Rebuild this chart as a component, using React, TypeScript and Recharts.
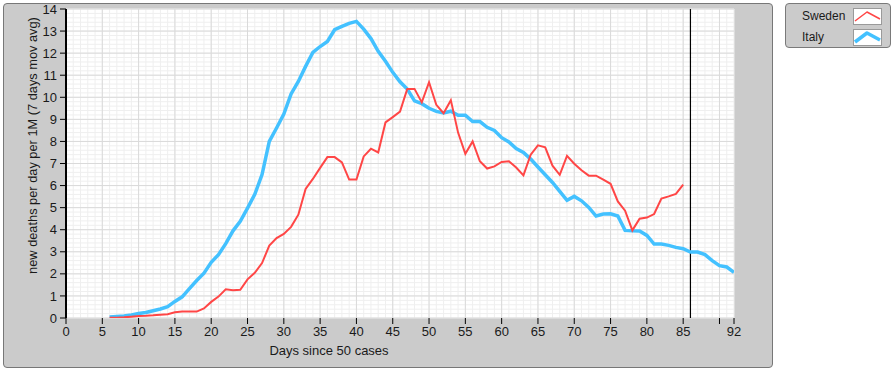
import React from 'react';
import { LineChart, Line, XAxis, YAxis, CartesianGrid, ReferenceLine, Legend } from 'recharts';

const days = [6, 7, 8, 9, 10, 11, 12, 13, 14, 15, 16, 17, 18, 19, 20, 21, 22, 23, 24, 25, 26, 27, 28, 29, 30, 31, 32, 33, 34, 35, 36, 37, 38, 39, 40, 41, 42, 43, 44, 45, 46, 47, 48, 49, 50, 51, 52, 53, 54, 55, 56, 57, 58, 59, 60, 61, 62, 63, 64, 65, 66, 67, 68, 69, 70, 71, 72, 73, 74, 75, 76, 77, 78, 79, 80, 81, 82, 83, 84, 85, 86, 87, 88, 89, 90, 91, 92];

// Sweden: days 6..85
const swedenDeaths = [0.01, 0.01, 0.03, 0.06, 0.09, 0.1, 0.12, 0.15, 0.17, 0.26, 0.29, 0.29, 0.29, 0.43, 0.73, 0.97, 1.3, 1.26, 1.28, 1.75, 2.05, 2.49, 3.28, 3.62, 3.81, 4.13, 4.68, 5.85, 6.3, 6.8, 7.29, 7.29, 7.05, 6.27, 6.27, 7.32, 7.67, 7.5, 8.86, 9.1, 9.35, 10.38, 10.38, 9.77, 10.68, 9.66, 9.28, 9.87, 8.4, 7.44, 8.0, 7.1, 6.77, 6.87, 7.07, 7.1, 6.82, 6.46, 7.4, 7.82, 7.73, 6.9, 6.49, 7.35, 6.99, 6.69, 6.45, 6.45, 6.27, 6.08, 5.28, 4.86, 3.97, 4.5, 4.55, 4.71, 5.41, 5.51, 5.62, 6.04];

// Italy: days 6..92
const italyDeaths = [0.05, 0.07, 0.09, 0.14, 0.2, 0.25, 0.33, 0.41, 0.51, 0.75, 0.96, 1.33, 1.7, 2.03, 2.52, 2.87, 3.37, 3.95, 4.38, 4.98, 5.6, 6.5, 8.0, 8.61, 9.24, 10.15, 10.72, 11.4, 12.03, 12.3, 12.53, 13.06, 13.21, 13.35, 13.44, 13.09, 12.66, 12.08, 11.63, 11.13, 10.7, 10.37, 9.84, 9.71, 9.5, 9.36, 9.29, 9.37, 9.19, 9.19, 8.9, 8.9, 8.64, 8.5, 8.17, 7.98, 7.68, 7.5, 7.2, 6.84, 6.49, 6.14, 5.74, 5.33, 5.51, 5.31, 5.01, 4.62, 4.71, 4.72, 4.62, 3.97, 3.95, 3.94, 3.74, 3.35, 3.35, 3.29, 3.2, 3.14, 2.99, 2.99, 2.87, 2.6, 2.37, 2.31, 2.07];

const xTicks = [0, 5, 10, 15, 20, 25, 30, 35, 40, 45, 50, 55, 60, 65, 70, 75, 80, 85, 90, 92];
const hiddenXTickLabels = [90];
const yTicks = [0, 1, 2, 3, 4, 5, 6, 7, 8, 9, 10, 11, 12, 13, 14];
const markerDay = 86;
const legendOrder = ['Sweden', 'Italy'];

const minorX: number[] = [];
for (let d = 0; d <= 92; d += 1) minorX.push(d);
const minorY: number[] = [];
for (let i = 0; i <= 70; i += 1) minorY.push(i / 5);

const data = days.map((day, i) => ({
  day,
  Sweden: i < swedenDeaths.length ? swedenDeaths[i] : undefined,
  Italy: italyDeaths[i],
}));

const RED = '#ff4646';
const BLUE = '#43c1ff';
const FONT = '"Liberation Sans", Arial, Helvetica, sans-serif';
const swatchWidths: Record<string, number> = { Sweden: 1.5, Italy: 3.5 };

const scaleOf = (axis: any) => (axis && typeof axis.scale === 'function' ? axis.scale : null);

const vGen = (props: any) => {
  const s = scaleOf(props.xAxis);
  const o = props.offset;
  return minorX.map((d) => (s ? s(d) : o.left + (d / 92) * o.width));
};
const hGen = (props: any) => {
  const s = scaleOf(props.yAxis);
  const o = props.offset;
  return minorY.map((v) => (s ? s(v) : o.top + o.height - (v / 14) * o.height));
};
const vGenMajor = (props: any) => {
  const s = scaleOf(props.xAxis);
  const o = props.offset;
  return minorX.filter((d) => d % 5 === 0).map((d) => (s ? s(d) : o.left + (d / 92) * o.width));
};
const hGenMajor = (props: any) => {
  const s = scaleOf(props.yAxis);
  const o = props.offset;
  return yTicks.map((v) => (s ? s(v) : o.top + o.height - (v / 14) * o.height));
};

const YLabel = (props: any) => {
  const vb = props.viewBox || { x: 16, y: 9, width: 50, height: 309 };
  const cx = vb.x + 16;
  const cy = vb.y + vb.height / 2 - 18;
  return (
    <text x={cx} y={cy} transform={`rotate(-90 ${cx} ${cy})`} textAnchor="middle" dominantBaseline="central" fill="#1a1a1a" fontSize={12.8} fontFamily={FONT}>
      new deaths per day per 1M (7 days mov avg)
    </text>
  );
};

const XLabel = (props: any) => {
  const vb = props.viewBox || { x: 66, y: 318, width: 668, height: 30 };
  const cx = vb.x + 263;
  const cy = vb.y + 32;
  return (
    <text x={cx} y={cy} textAnchor="middle" dominantBaseline="central" fill="#1a1a1a" fontSize={13} fontFamily={FONT}>
      Days since 50 cases
    </text>
  );
};

const LegendBox = (props: any) => {
  const payload = props.payload || [];
  const items = legendOrder.map((n) => payload.find((p: any) => p.value === n)).filter(Boolean);
  return (
    <div style={{ width: 106, height: 45, boxSizing: 'border-box', background: '#cbcbcb', border: '1px solid #7a7a7a', borderRadius: 4, position: 'relative', fontFamily: FONT, fontSize: 12, color: '#1a1a1a' }}>
      {items.map((p: any, i: number) => (
        <div key={p.value} style={{ position: 'absolute', left: 0, top: 4 + i * 21, width: 104, height: 17 }}>
          <span style={{ position: 'absolute', left: 16, top: 1, lineHeight: '15px' }}>{p.value}</span>
          <svg width={29} height={17} style={{ position: 'absolute', left: 67, top: 0 }}>
            <rect x={0.5} y={0.5} width={28} height={16} fill="#fff" stroke="#9a9a9a" />
            <polyline points="2,13 14,4 27,11" fill="none" stroke={p.color} strokeWidth={swatchWidths[p.value] || 2} strokeLinejoin="round" />
          </svg>
        </div>
      ))}
    </div>
  );
};

export default function App() {
  return (
    <div style={{ position: 'absolute', left: 0, top: 0, width: 896, height: 372, background: '#fff', fontFamily: FONT }}>
      <div style={{ position: 'absolute', left: 3, top: 3, width: 770, height: 365, boxSizing: 'border-box', background: '#cbcbcb', border: '1px solid #777', borderRadius: 4 }} />
      <div style={{ position: 'absolute', left: 0, top: 0 }}>
        <LineChart width={896} height={372} data={data} margin={{ top: 9, right: 162, bottom: 24, left: 16 }} style={{ fontFamily: FONT }}>
          <CartesianGrid fill="#ffffff" stroke="#efefef" strokeWidth={1} verticalCoordinatesGenerator={vGen} horizontalCoordinatesGenerator={hGen} />
          <CartesianGrid stroke="#dadada" strokeWidth={1} verticalCoordinatesGenerator={vGenMajor} horizontalCoordinatesGenerator={hGenMajor} />
          <XAxis
            dataKey="day"
            type="number"
            domain={[0, 92]}
            ticks={xTicks}
            interval={0}
            allowDataOverflow
            axisLine={false}
            tickLine={{ stroke: '#000' }}
            tickSize={6}
            tickMargin={3}
            tick={{ fill: '#1a1a1a', fontSize: 13 }}
            tickFormatter={(v: number) => (hiddenXTickLabels.includes(v) ? '' : String(v))}
            height={30}
            label={XLabel}
          />
          <YAxis
            type="number"
            domain={[0, 14]}
            ticks={yTicks}
            interval={0}
            allowDataOverflow
            axisLine={{ stroke: '#000', strokeWidth: 2 }}
            tickLine={{ stroke: '#000' }}
            tickSize={6}
            tickMargin={3}
            tick={{ fill: '#1a1a1a', fontSize: 13 }}
            width={50}
            label={YLabel}
          />
          <ReferenceLine x={markerDay} stroke="#000" strokeWidth={1.2} ifOverflow="visible" />
          <Line type="linear" dataKey="Italy" name="Italy" stroke={BLUE} strokeWidth={3.5} dot={false} isAnimationActive={false} connectNulls={false} />
          <Line type="linear" dataKey="Sweden" name="Sweden" stroke={RED} strokeWidth={2} dot={false} isAnimationActive={false} connectNulls={false} />
          <Legend layout="horizontal" verticalAlign="middle" align="center" content={LegendBox} wrapperStyle={{ position: 'absolute', left: 785, top: 3, width: 106, height: 45, margin: 0 }} />
        </LineChart>
      </div>
    </div>
  );
}
